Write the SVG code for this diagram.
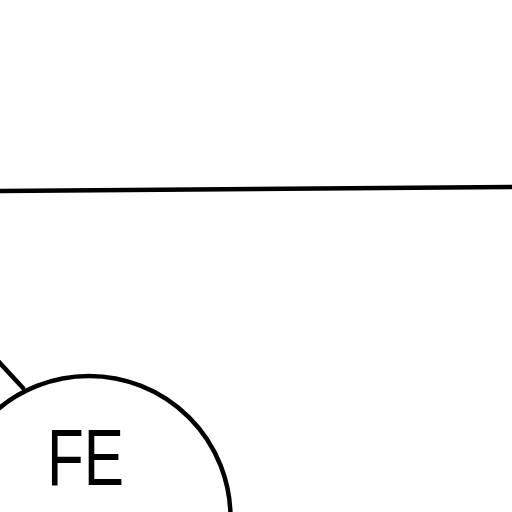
<svg xmlns="http://www.w3.org/2000/svg" width="512" height="512" viewBox="0 0 512 512">
<style>
.ln{fill:none;stroke:#000;stroke-width:4.5;stroke-linecap:round}
.lbl{font-family:"Liberation Sans",Arial,sans-serif;font-size:79px;fill:#000}
</style>
<rect width="512" height="512" fill="#fff"/>
<g id="connectors">
<line class="ln" x1="-2" y1="191" x2="514" y2="187"/>
<line class="ln" x1="-2" y1="361" x2="23" y2="388"/>
</g>
<g id="node-FE">
<circle class="ln" cx="89" cy="517.5" r="141.5"/>
<text class="lbl" x="47" y="485" textLength="77" lengthAdjust="spacingAndGlyphs">FE</text>
</g>
</svg>
